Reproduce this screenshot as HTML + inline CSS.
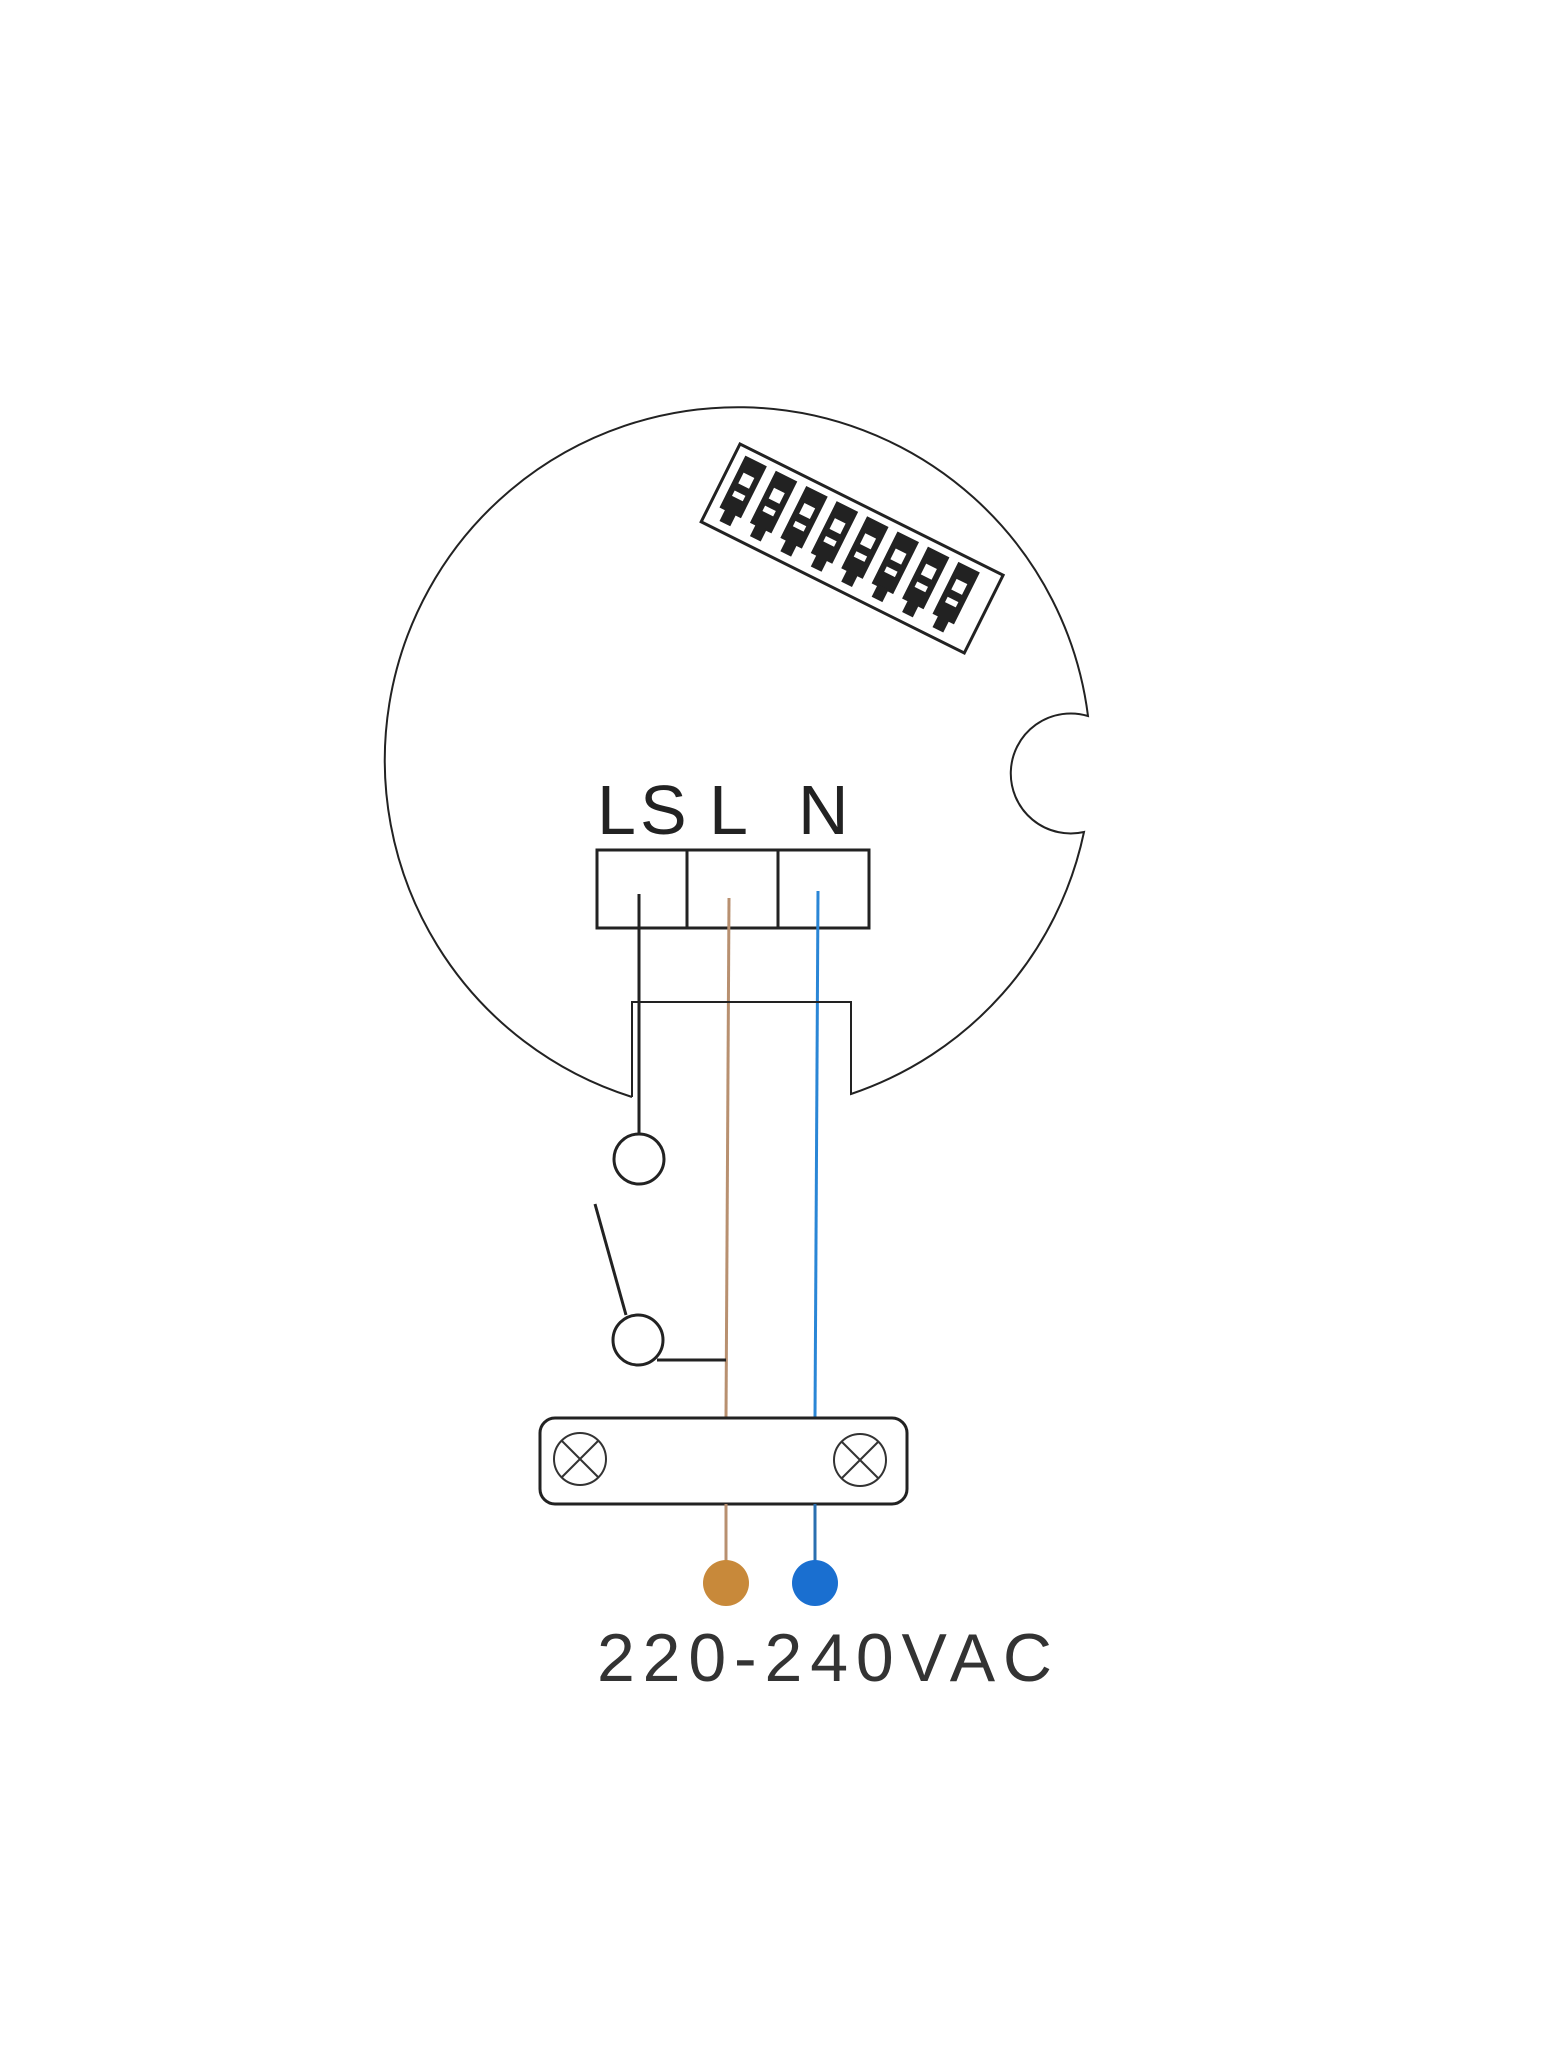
<!DOCTYPE html>
<html><head><meta charset="utf-8"><style>html,body{margin:0;padding:0;background:#fff}svg{display:block}</style></head>
<body>
<svg width="1562" height="2047" viewBox="0 0 1562 2047" xmlns="http://www.w3.org/2000/svg">
<rect width="1562" height="2047" fill="#fff"/>
<path d="M632,1097 A353 353 0 1 1 1088,716 A60 60 0 1 0 1084,832 A353 353 0 0 1 851,1094 L851,1002 L632,1002 L632,1097" fill="none" stroke="#222" stroke-width="2"/>
<g transform="translate(740,444) rotate(26.5)" stroke="#222">
  <rect x="0" y="0" width="294" height="87" fill="#fff" stroke-width="3"/>
  <g fill="#222" stroke="none">
    <rect x="10" y="8" width="24" height="58"/><rect x="44" y="8" width="24" height="58"/>
    <rect x="78" y="8" width="24" height="58"/><rect x="112" y="8" width="24" height="58"/>
    <rect x="146" y="8" width="24" height="58"/><rect x="180" y="8" width="24" height="58"/>
    <rect x="214" y="8" width="24" height="58"/><rect x="248" y="8" width="24" height="58"/>
    <rect x="16" y="64" width="12" height="14"/><rect x="50" y="64" width="12" height="14"/>
    <rect x="84" y="64" width="12" height="14"/><rect x="118" y="64" width="12" height="14"/>
    <rect x="152" y="64" width="12" height="14"/><rect x="186" y="64" width="12" height="14"/>
    <rect x="220" y="64" width="12" height="14"/><rect x="254" y="64" width="12" height="14"/>
  </g>
  <g fill="#fff" stroke="none">
    <rect x="16" y="24" width="12" height="12"/><rect x="50" y="24" width="12" height="12"/>
    <rect x="84" y="24" width="12" height="12"/><rect x="118" y="24" width="12" height="12"/>
    <rect x="152" y="24" width="12" height="12"/><rect x="186" y="24" width="12" height="12"/>
    <rect x="220" y="24" width="12" height="12"/><rect x="254" y="24" width="12" height="12"/>
    <rect x="16" y="44" width="12" height="6"/><rect x="50" y="44" width="12" height="6"/>
    <rect x="84" y="44" width="12" height="6"/><rect x="118" y="44" width="12" height="6"/>
    <rect x="152" y="44" width="12" height="6"/><rect x="186" y="44" width="12" height="6"/>
    <rect x="220" y="44" width="12" height="6"/><rect x="254" y="44" width="12" height="6"/>
  </g>
</g>
<g font-family="Liberation Sans, sans-serif" font-size="70" fill="#222">
  <text x="597" y="834">L</text><text x="640" y="834">S</text>
  <text x="709" y="834">L</text><text x="798" y="834">N</text>
</g>
<rect x="597" y="850" width="272" height="78" fill="none" stroke="#222" stroke-width="3"/>
<line x1="687" y1="850" x2="687" y2="928" stroke="#222" stroke-width="3"/>
<line x1="778" y1="850" x2="778" y2="928" stroke="#222" stroke-width="3"/>
<line x1="639" y1="894" x2="639" y2="1134" stroke="#222" stroke-width="3"/>
<line x1="729" y1="898" x2="726" y2="1418" stroke="#b89070" stroke-width="3"/>
<line x1="818" y1="891" x2="815" y2="1418" stroke="#2a86d6" stroke-width="3"/>
<line x1="632" y1="1002" x2="851" y2="1002" stroke="#222" stroke-width="2"/>
<circle cx="639" cy="1159" r="25" fill="#fff" stroke="#222" stroke-width="3"/>
<line x1="595" y1="1204" x2="626" y2="1315" stroke="#222" stroke-width="3"/>
<circle cx="638" cy="1340" r="25" fill="#fff" stroke="#222" stroke-width="3"/>
<line x1="657" y1="1360" x2="726" y2="1360" stroke="#222" stroke-width="3"/>
<rect x="540" y="1418" width="367" height="86" rx="15" fill="#fff" stroke="#222" stroke-width="3"/>
<g stroke="#333" stroke-width="2" fill="none">
  <circle cx="580" cy="1459" r="26"/><line x1="562" y1="1441" x2="598" y2="1477"/><line x1="598" y1="1441" x2="562" y2="1477"/>
  <circle cx="860" cy="1460" r="26"/><line x1="842" y1="1442" x2="878" y2="1478"/><line x1="878" y1="1442" x2="842" y2="1478"/>
</g>
<line x1="726" y1="1504" x2="726" y2="1570" stroke="#b89070" stroke-width="3"/>
<line x1="815" y1="1504" x2="815" y2="1570" stroke="#2a6fb0" stroke-width="3"/>
<circle cx="726" cy="1583" r="23" fill="#c8893a"/>
<circle cx="815" cy="1583" r="23" fill="#1a6fd0"/>
<text x="597" y="1681" font-family="Liberation Sans, sans-serif" font-size="68" fill="#333" textLength="455" lengthAdjust="spacing">220-240VAC</text>
</svg>
</body></html>
